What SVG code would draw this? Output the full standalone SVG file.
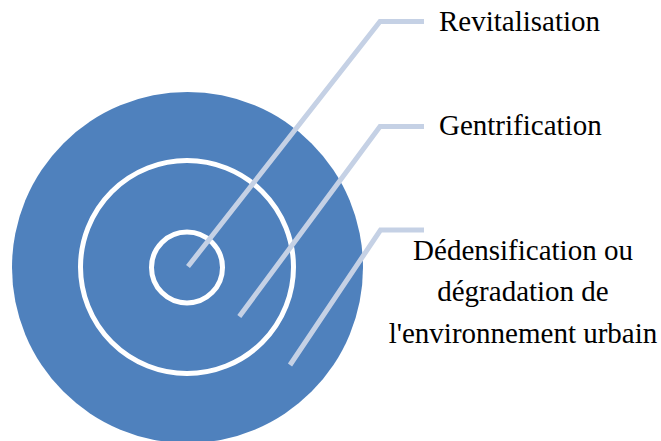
<svg xmlns="http://www.w3.org/2000/svg" width="661" height="441" viewBox="0 0 661 441">
<style>
.ring{fill:none;stroke:#FFFFFF;stroke-width:5}
.lead{fill:none;stroke:#C5D1E5;stroke-width:5;stroke-linejoin:miter}
.lbl{font-family:"Liberation Serif","Times New Roman",serif;font-size:29px;fill:#000000}
</style>
<rect width="661" height="441" fill="#FFFFFF"/>
<g id="outer">
<circle cx="187.5" cy="267.5" r="175.5" fill="#4F81BD"/>
</g>
<g id="middle">
<circle class="ring" cx="187" cy="267" r="106.5"/>
</g>
<g id="inner">
<circle class="ring" cx="187" cy="267.5" r="35.5"/>
</g>
<g id="connectors">
<polyline class="lead" points="188,266.5 380,21.5 424,21.5"/>
<polyline class="lead" points="239.3,316.5 380,126.5 424,126.5"/>
<polyline class="lead" points="290,365 380.5,230 424,230"/>
</g>
<g id="label-revitalisation">
<text class="lbl" x="439" y="31">Revitalisation</text>
</g>
<g id="label-gentrification">
<text class="lbl" x="439" y="135">Gentrification</text>
</g>
<g id="label-degradation">
<text class="lbl" x="523" y="260" text-anchor="middle">Dédensification ou</text>
<text class="lbl" x="523" y="301" text-anchor="middle">dégradation de</text>
<text class="lbl" x="523" y="343" text-anchor="middle">l'environnement urbain</text>
</g>
</svg>
